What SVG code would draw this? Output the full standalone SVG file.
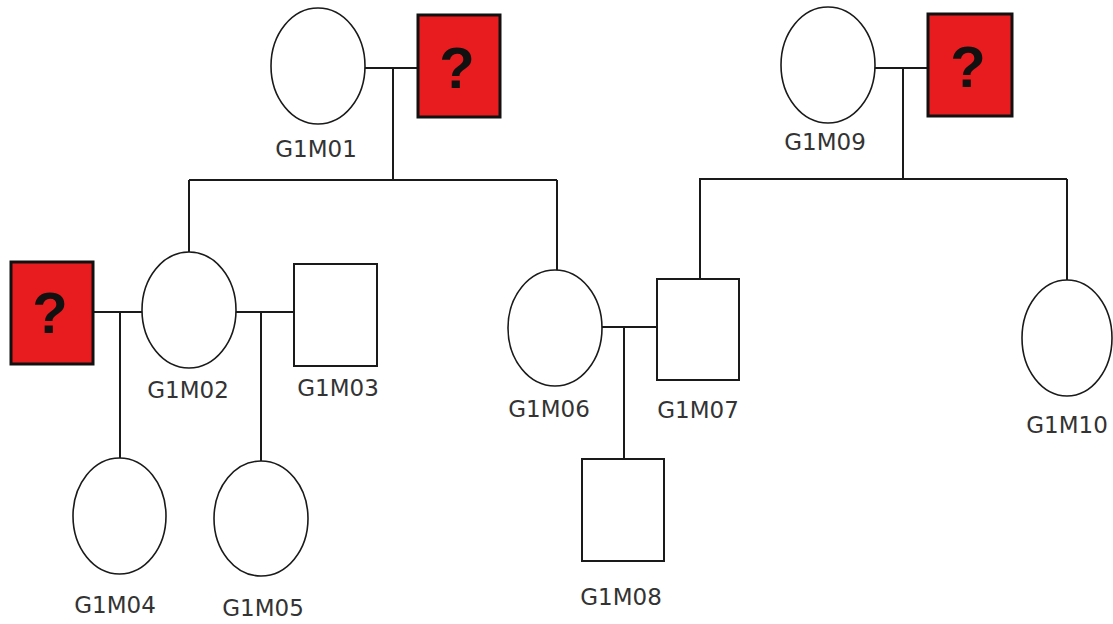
<svg xmlns="http://www.w3.org/2000/svg" width="1113" height="624" viewBox="0 0 1113 624">
<style>
.f{fill:#fff;stroke:#1a1a1a;stroke-width:1.6}
.m{fill:#fff;stroke:#1a1a1a;stroke-width:2}
.u{fill:#e81c1f;stroke:#111;stroke-width:3}
.q{font-family:"Liberation Sans",Arial,sans-serif;font-weight:bold;font-size:58px;fill:#111;text-anchor:middle}
.l{font-family:"DejaVu Sans",Verdana,sans-serif;font-size:23px;fill:#333;text-anchor:middle}
.c{fill:none;stroke:#1a1a1a;stroke-width:2}
</style>
<rect width="1113" height="624" fill="#fff"/>
<g id="connectors">
<path class="c" d="M365 68H418M393 68V180M189 180H557M189 180V252M557 180V270"/>
<path class="c" d="M875 68H928M903 68V179M699 179H1067M700 179V279M1067 179V280"/>
<path class="c" d="M93 312H142M120 312V458M236 312H294M261 312V461"/>
<path class="c" d="M602 327H657M624 327V459"/>
</g>
<g id="G1M01"><ellipse class="f" cx="318" cy="66" rx="47" ry="58"/><text class="l" x="316" y="157">G1M01</text></g>
<g id="U1"><rect class="u" x="418" y="15" width="82" height="102"/><text class="q" x="457" y="88">?</text></g>
<g id="G1M09"><ellipse class="f" cx="828" cy="65" rx="47" ry="58"/><text class="l" x="825" y="150">G1M09</text></g>
<g id="U2"><rect class="u" x="928" y="14" width="84" height="102"/><text class="q" x="968" y="87">?</text></g>
<g id="U3"><rect class="u" x="11" y="262" width="82" height="102"/><text class="q" x="50" y="333">?</text></g>
<g id="G1M02"><ellipse class="f" cx="189" cy="310" rx="47" ry="58"/><text class="l" x="188" y="398">G1M02</text></g>
<g id="G1M03"><rect class="m" x="294" y="264" width="83" height="102"/><text class="l" x="338" y="396">G1M03</text></g>
<g id="G1M04"><ellipse class="f" cx="119.5" cy="516" rx="46.5" ry="58"/><text class="l" x="115" y="613">G1M04</text></g>
<g id="G1M05"><ellipse class="f" cx="261" cy="518.5" rx="47" ry="57.5"/><text class="l" x="263" y="616">G1M05</text></g>
<g id="G1M06"><ellipse class="f" cx="555" cy="328" rx="47" ry="58"/><text class="l" x="549" y="417">G1M06</text></g>
<g id="G1M07"><rect class="m" x="657" y="279" width="82" height="101"/><text class="l" x="698" y="418">G1M07</text></g>
<g id="G1M08"><rect class="m" x="582" y="459" width="82" height="102"/><text class="l" x="621" y="605">G1M08</text></g>
<g id="G1M10"><ellipse class="f" cx="1067" cy="338" rx="45" ry="58"/><text class="l" x="1067" y="433">G1M10</text></g>
</svg>
